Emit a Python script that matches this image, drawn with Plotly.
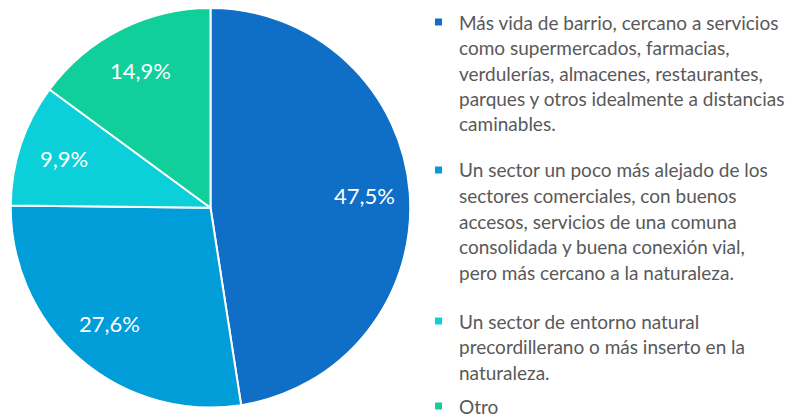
import math
import plotly.graph_objects as go

# ---- data ----
labels = [
    "Más vida de barrio, cercano a servicios como supermercados, farmacias, verdulerías, almacenes, restaurantes, parques y otros idealmente a distancias caminables.",
    "Un sector un poco más alejado de los sectores comerciales, con buenos accesos, servicios de una comuna consolidada y buena conexión vial, pero más cercano a la naturaleza.",
    "Un sector de entorno natural precordillerano o más inserto en la naturaleza.",
    "Otro",
]
legend_lines = [
    ["Más vida de barrio, cercano a servicios",
     "como supermercados, farmacias,",
     "verdulerías, almacenes, restaurantes,",
     "parques y otros idealmente a distancias",
     "caminables."],
    ["Un sector un poco más alejado de los",
     "sectores comerciales, con buenos",
     "accesos, servicios de una comuna",
     "consolidada y buena conexión vial,",
     "pero más cercano a la naturaleza."],
    ["Un sector de entorno natural",
     "precordillerano o más inserto en la",
     "naturaleza."],
    ["Otro"],
]
values = [47.5, 27.6, 9.9, 14.9]
colors = ["#0F6FC6", "#009DD9", "#0BD0D9", "#10CF9B"]

# ---- layout constants (page offset compensates the 8px body margin) ----
OFF = 8
W, H = 811 - OFF, 417 - OFF
FONT = "Lato"


def px(x):
    return (x - OFF) / W


def py(y):
    return 1 - (y - OFF) / H


CX, CY, R = 210.5, 207.5, 200
fig = go.Figure(go.Pie(
    labels=labels,
    values=values,
    sort=False,
    direction="clockwise",
    rotation=0,
    marker=dict(colors=colors, line=dict(color="white", width=2)),
    textinfo="none",
    domain=dict(x=[px(CX - R), px(CX + R)], y=[max(0, py(CY + R)), min(1, py(CY - R))]),
    hoverinfo="label+value",
    showlegend=False,
))

# data labels placed at the mid-angle of each slice (computed from values)
total = sum(values)
cum = 0
for v in values:
    mid = (cum + v / 2) / total * 2 * math.pi
    cum += v
    lx = CX + 0.77 * R * math.sin(mid)
    ly = CY - 0.77 * R * math.cos(mid)
    fig.add_annotation(xref="paper", yref="paper", x=px(lx), y=py(ly),
                       text=f"{v:.1f}%".replace(".", ","), showarrow=False,
                       xanchor="center", yanchor="middle",
                       font=dict(family=FONT, size=22, color="white"))

# manual legend
item_top = [22, 170, 321, 406]
line_gap = 25.5
text_x = 457
marker_x = 438.5
msize = 7
for i, lines in enumerate(legend_lines):
    y0 = item_top[i]
    fig.add_shape(type="rect", xref="paper", yref="paper",
                  x0=px(marker_x - msize / 2), x1=px(marker_x + msize / 2),
                  y0=py(y0 + msize / 2), y1=py(y0 - msize / 2),
                  fillcolor=colors[i], line=dict(width=0))
    for j, ln in enumerate(lines):
        yy = y0 + j * line_gap
        fig.add_annotation(xref="paper", yref="paper", x=px(text_x), y=py(yy),
                           text=ln, showarrow=False, xanchor="left", yanchor="middle",
                           font=dict(family=FONT, size=19, color="#595959"))

fig.update_layout(
    width=W, height=H,
    margin=dict(l=0, r=0, t=0, b=0),
    paper_bgcolor="white", plot_bgcolor="white",
    font=dict(family=FONT),
)
fig.write_html("out.html")
